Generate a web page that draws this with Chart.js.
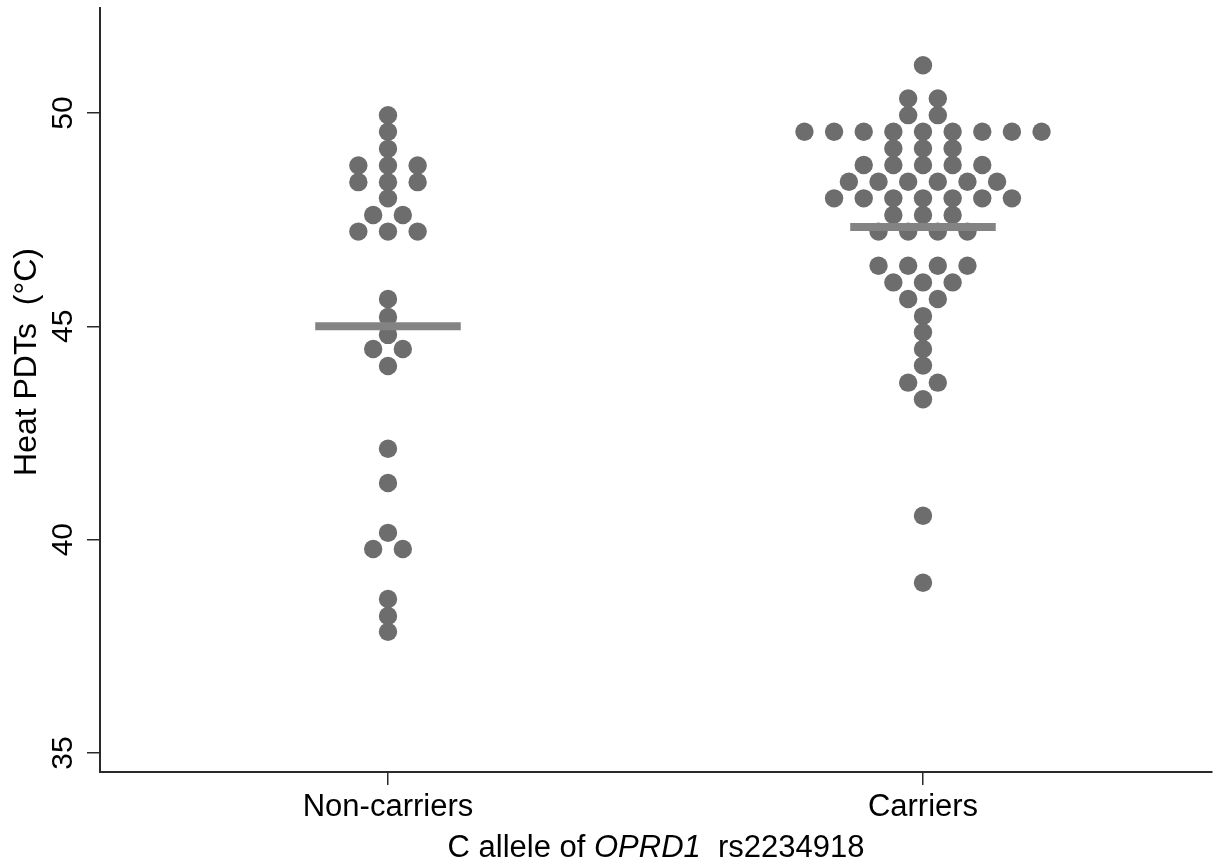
<!DOCTYPE html>
<html>
<head>
<meta charset="utf-8">
<script src="https://cdn.jsdelivr.net/npm/chart.js@4/dist/chart.umd.min.js"></script>
<style>
  html, body { margin: 0; padding: 0; background: #ffffff; }
  #wrap { width: 1214px; height: 866px; position: relative; }
</style>
</head>
<body>
<div id="wrap"><canvas id="c" width="1214" height="866"></canvas></div>
<script>
// ---- Data ----
const categories = ['Non-carriers', 'Carriers'];
const nonCarriers = [
  49.95, 49.56, 49.16,
  48.77, 48.77, 48.77,
  48.38, 48.38, 48.38,
  48.00,
  47.61, 47.61,
  47.22, 47.22, 47.22,
  45.64, 45.22, 44.80,
  44.47, 44.47,
  44.07,
  42.13, 41.33, 40.16,
  39.78, 39.78,
  38.61, 38.21, 37.84
];
const carriers = [
  51.12,
  50.34, 50.34,
  49.95, 49.95,
  49.56, 49.56, 49.56, 49.56, 49.56, 49.56, 49.56, 49.56, 49.56,
  49.17, 49.17, 49.17,
  48.78, 48.78, 48.78, 48.78, 48.78,
  48.39, 48.39, 48.39, 48.39, 48.39, 48.39,
  48.00, 48.00, 48.00, 48.00, 48.00, 48.00, 48.00,
  47.61, 47.61, 47.61,
  47.22, 47.22, 47.22, 47.22,
  46.42, 46.42, 46.42, 46.42,
  46.03, 46.03, 46.03,
  45.64, 45.64,
  45.24,
  44.86,
  44.47,
  44.08,
  43.68, 43.68,
  43.29,
  40.56,
  38.99
];
const means = [45.0, 47.33];
const yTicks = [35, 40, 45, 50];
const yTitle = 'Heat PDTs  (\u00B0C)';
const xTitleParts = [
  { text: 'C allele of ', italic: false },
  { text: 'OPRD1', italic: true },
  { text: '  rs2234918', italic: false }
];

// ---- Layout helpers (dot-plot stacking) ----
const DOT_STEP = 0.0554;     // horizontal spacing between dots in a row (x units)
const MEAN_HALF = 0.136;     // half length of mean bar (x units)

function dotPoints(values, center) {
  const groups = new Map();
  values.forEach(v => {
    const k = v.toFixed(2);
    if (!groups.has(k)) groups.set(k, []);
    groups.get(k).push(v);
  });
  const pts = [];
  groups.forEach(arr => {
    const n = arr.length;
    arr.forEach((v, i) => {
      pts.push({ x: center + (i - (n - 1) / 2) * DOT_STEP, y: v });
    });
  });
  return pts;
}

const FONT = '"Liberation Sans", Arial, Helvetica, sans-serif';
const DOT_COLOR = '#6d6d6d';
const MEAN_COLOR = '#838383';
const AXIS_COLOR = '#2a2a2a';

const datasets = [];
[nonCarriers, carriers].forEach((vals, i) => {
  datasets.push({
    type: 'scatter',
    label: categories[i],
    data: dotPoints(vals, i + 1),
    pointRadius: 9.2,
    pointHoverRadius: 9.2,
    pointBackgroundColor: DOT_COLOR,
    pointBorderWidth: 0,
    borderWidth: 0,
    order: 2
  });
});
means.forEach((m, i) => {
  datasets.push({
    type: 'line',
    label: categories[i] + ' mean',
    data: [{ x: i + 1 - MEAN_HALF, y: m }, { x: i + 1 + MEAN_HALF, y: m }],
    borderColor: MEAN_COLOR,
    borderWidth: 8,
    borderCapStyle: 'butt',
    pointRadius: 0,
    fill: false,
    order: 1
  });
});

const customText = {
  id: 'customText',
  afterDraw(chart) {
    const ctx = chart.ctx;
    const ys = chart.scales.y;
    const area = chart.chartArea;
    ctx.save();
    ctx.fillStyle = '#000000';
    ctx.textAlign = 'center';
    ctx.textBaseline = 'alphabetic';
    // rotated y tick labels
    ctx.font = '30px ' + FONT;
    yTicks.forEach(v => {
      const py = ys.getPixelForValue(v);
      ctx.save();
      ctx.translate(area.left - 28, py);
      ctx.rotate(-Math.PI / 2);
      ctx.fillText(String(v), 0, 0);
      ctx.restore();
    });
    // y axis title
    ctx.font = '32px ' + FONT;
    ctx.save();
    ctx.translate(area.left - 64, (area.top + area.bottom) / 2 - 28);
    ctx.rotate(-Math.PI / 2);
    ctx.fillText(yTitle, 0, 0);
    ctx.restore();
    // x axis title with italic gene name
    ctx.textAlign = 'left';
    let total = 0;
    const widths = xTitleParts.map(p => {
      ctx.font = (p.italic ? 'italic ' : '') + '31px ' + FONT;
      const w = ctx.measureText(p.text).width;
      total += w;
      return w;
    });
    let x = (area.left + area.right) / 2 - total / 2;
    const yBase = area.bottom + 85;
    xTitleParts.forEach((p, i) => {
      ctx.font = (p.italic ? 'italic ' : '') + '31px ' + FONT;
      ctx.fillText(p.text, x, yBase);
      x += widths[i];
    });
    ctx.restore();
  }
};

new Chart(document.getElementById('c'), {
  type: 'scatter',
  data: { datasets },
  options: {
    responsive: false,
    animation: false,
    devicePixelRatio: 1,
    layout: { autoPadding: false, padding: { top: 8, right: 2, left: 0, bottom: 0 } },
    plugins: {
      legend: { display: false },
      tooltip: { enabled: false },
      title: { display: false }
    },
    scales: {
      x: {
        type: 'linear',
        min: 0.4617,
        max: 2.5402,
        afterBuildTicks(scale) {
          scale.ticks = categories.map((c, i) => ({ value: i + 1 }));
        },
        afterFit(scale) {
          scale.height = 94;
          scale.paddingLeft = 0;
          scale.paddingRight = 0;
        },
        ticks: {
          callback: (v) => categories[Math.round(v) - 1] || '',
          font: { family: FONT, size: 31 },
          color: '#000000',
          padding: 4,
          maxRotation: 0,
          autoSkip: false
        },
        grid: {
          display: true,
          drawOnChartArea: false,
          drawTicks: true,
          tickLength: 13,
          color: AXIS_COLOR,
          lineWidth: 1.5
        },
        border: { display: true, color: AXIS_COLOR, width: 2 }
      },
      y: {
        type: 'linear',
        min: 34.555,
        max: 52.461,
        afterBuildTicks(scale) {
          scale.ticks = yTicks.map(v => ({ value: v }));
        },
        afterFit(scale) {
          scale.width = 100;
          scale.paddingTop = 0;
          scale.paddingBottom = 0;
        },
        ticks: { display: false },
        grid: {
          display: true,
          drawOnChartArea: false,
          drawTicks: true,
          tickLength: 13,
          color: AXIS_COLOR,
          lineWidth: 1.5
        },
        border: { display: true, color: AXIS_COLOR, width: 2 }
      }
    }
  },
  plugins: [customText]
});
</script>
</body>
</html>
